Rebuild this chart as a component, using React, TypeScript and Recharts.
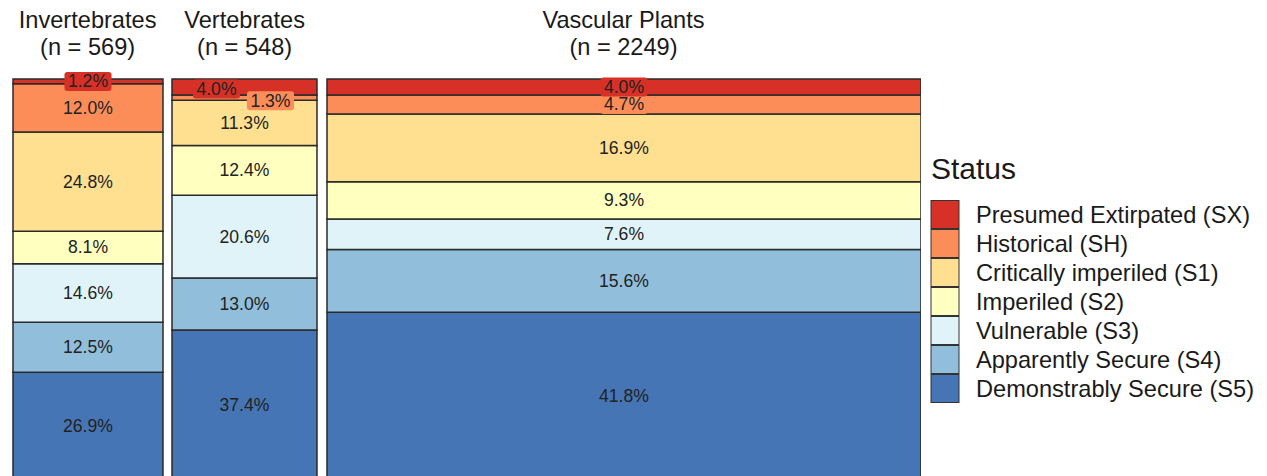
import React from 'react';
import { BarChart, Bar, XAxis, YAxis, LabelList } from 'recharts';

const groups = ['Invertebrates', 'Vertebrates', 'Vascular Plants'];
const counts = [569, 548, 2249];

const statusKeys = ['SX', 'SH', 'S1', 'S2', 'S3', 'S4', 'S5'];
const statusLabels = [
  'Presumed Extirpated (SX)',
  'Historical (SH)',
  'Critically imperiled (S1)',
  'Imperiled (S2)',
  'Vulnerable (S3)',
  'Apparently Secure (S4)',
  'Demonstrably Secure (S5)',
];
const statusColors = ['#D73027', '#FC8D59', '#FEE090', '#FFFFBF', '#E0F3F8', '#91BFDB', '#4575B4'];

const sxValues = [1.2, 4.0, 4.0];
const shValues = [12.0, 1.3, 4.7];
const s1Values = [24.8, 11.3, 16.9];
const s2Values = [8.1, 12.4, 9.3];
const s3Values = [14.6, 20.6, 7.6];
const s4Values = [12.5, 13.0, 15.6];
const s5Values = [26.9, 37.4, 41.8];

const seriesValues: Record<string, number[]> = {
  SX: sxValues,
  SH: shValues,
  S1: s1Values,
  S2: s2Values,
  S3: s3Values,
  S4: s4Values,
  S5: s5Values,
};

// label repel offsets (px) for crowded labels
const labelNudge: Record<string, [number, number]> = {
  'Vertebrates-SX': [-28, 2],
  'Vertebrates-SH': [26, 3],
};

const FONT = '"Liberation Sans", Arial, sans-serif';
const PLOT_TOP = 79;
const PLOT_H = 401;
const START_X = 12.5;
const GAP = 9.5;
const TOTAL_W = 889;
const LABEL_FS = 17.6;
const OVER = 20;

const stackOrder = [...statusKeys].reverse(); // bottom first

function textWidth(s: string, fs: number) {
  let w = 0;
  for (const c of s) {
    if (c === '.') w += 0.278;
    else if (c === '%') w += 0.889;
    else w += 0.556;
  }
  return w * fs;
}

function makeLabel(group: string, key: string, color: string) {
  return (props: any) => {
    const { x, y, width, height, value } = props;
    if (value == null) return null;
    const txt = `${Number(value).toFixed(1)}%`;
    const nudge = labelNudge[`${group}-${key}`] || [0, 0];
    const cx = Number(x) + Number(width) / 2 + nudge[0];
    const cy = Number(y) + Number(height) / 2 + nudge[1];
    const tw = textWidth(txt, LABEL_FS);
    const bw = tw + 7;
    const bh = 19;
    return (
      <g>
        <rect x={cx - bw / 2} y={cy - bh / 2} width={bw} height={bh} rx={3} ry={3} fill={color} />
        <text
          x={cx}
          y={cy}
          textAnchor="middle"
          dominantBaseline="central"
          fontSize={LABEL_FS}
          fontFamily={FONT}
          fill="#222"
        >
          {txt}
        </text>
      </g>
    );
  };
}

function Panel({ index, left, width }: { index: number; left: number; width: number }) {
  const group = groups[index];
  const row: any = { group };
  statusKeys.forEach((k) => {
    row[k] = seriesValues[k][index];
  });
  const data = [row];
  return (
    <>
      <div style={{ position: 'absolute', left: left - 1, top: PLOT_TOP - 1 }}>
        <BarChart
          width={width + 2}
          height={PLOT_H + 2}
          data={data}
          margin={{ top: 1, right: 1, bottom: 1, left: 1 }}
          barCategoryGap={0}
        >
          <XAxis dataKey="group" hide />
          <YAxis hide domain={[0, 'dataMax']} />
          {stackOrder.map((k) => {
            const ci = statusKeys.indexOf(k);
            return (
              <Bar
                key={k}
                dataKey={k}
                stackId="a"
                fill={statusColors[ci]}
                stroke="#2a2a2a"
                strokeWidth={1.5}
                isAnimationActive={false}
              />
            );
          })}
        </BarChart>
      </div>
      <div style={{ position: 'absolute', left: left - OVER, top: PLOT_TOP - OVER }}>
        <BarChart
          width={width + 2 * OVER}
          height={PLOT_H + 2 * OVER}
          data={data}
          margin={{ top: OVER, right: OVER, bottom: OVER, left: OVER }}
          barCategoryGap={0}
        >
          <XAxis dataKey="group" hide />
          <YAxis hide domain={[0, 'dataMax']} />
          {stackOrder.map((k) => {
            const ci = statusKeys.indexOf(k);
            return (
              <Bar key={k} dataKey={k} stackId="a" fill="none" stroke="none" isAnimationActive={false}>
                <LabelList dataKey={k} content={makeLabel(group, k, statusColors[ci])} />
              </Bar>
            );
          })}
        </BarChart>
      </div>
      <div
        style={{
          position: 'absolute',
          left: left - 20,
          top: 0,
          width: width + 40,
          textAlign: 'center',
          fontFamily: FONT,
          fontSize: 23.6,
          color: '#1a1a1a',
          lineHeight: '27px',
          paddingTop: 7,
          whiteSpace: 'nowrap',
        }}
      >
        <div>{group}</div>
        <div>(n = {counts[index]})</div>
      </div>
    </>
  );
}

function Legend() {
  const keyX = 931;
  const keyTop = 200;
  const keyH = 29;
  return (
    <svg style={{ position: 'absolute', left: 0, top: 0 }} width={1267} height={476}>
      <text x={931} y={179} fontSize={30} fontFamily={FONT} fill="#1a1a1a">
        Status
      </text>
      {statusKeys.map((k, i) => (
        <g key={k}>
          <rect
            x={keyX}
            y={keyTop + i * keyH + 0.5}
            width={28}
            height={keyH - 1}
            fill={statusColors[i]}
            stroke="#333"
            strokeWidth={1}
          />
          <text
            x={976}
            y={keyTop + i * keyH + keyH / 2}
            dominantBaseline="central"
            fontSize={23.6}
            fontFamily={FONT}
            fill="#1a1a1a"
          >
            {statusLabels[i]}
          </text>
        </g>
      ))}
    </svg>
  );
}

export default function App() {
  const total = counts.reduce((a, b) => a + b, 0);
  let x = START_X;
  const panels = counts.map((n, i) => {
    const w = (n / total) * TOTAL_W;
    const p = <Panel key={groups[i]} index={i} left={x} width={w} />;
    x += w + GAP;
    return p;
  });
  return (
    <div
      style={{
        position: 'absolute',
        left: 0,
        top: 0,
        width: 1267,
        height: 476,
        overflow: 'hidden',
        background: '#fff',
      }}
    >
      <Legend />
      {panels}
    </div>
  );
}
